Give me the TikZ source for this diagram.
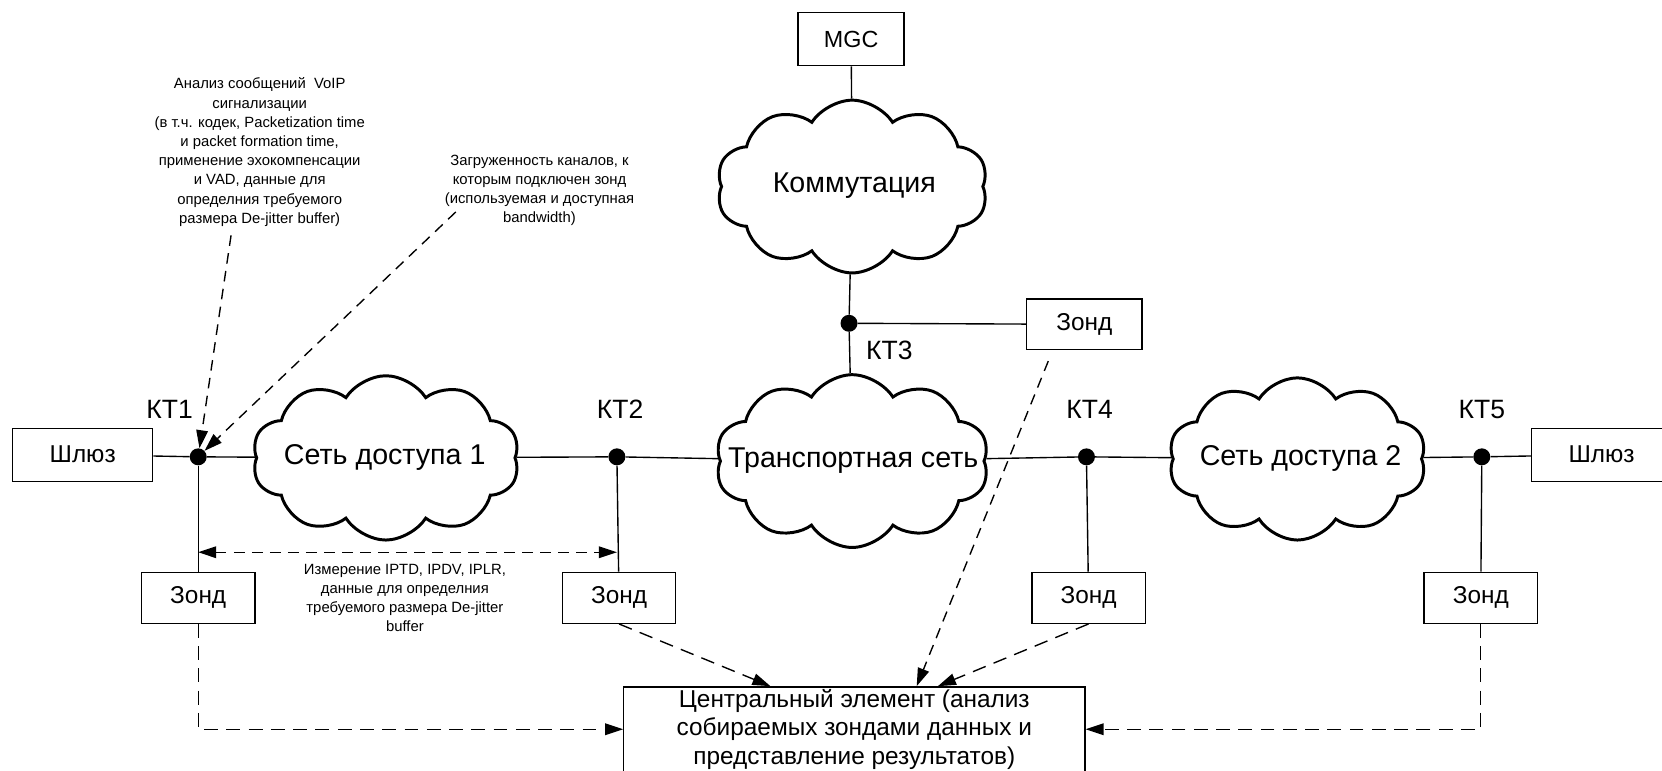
\documentclass[tikz,border=0pt]{standalone}
\usepackage{fontspec}
\setmainfont{Liberation Sans}
\usetikzlibrary{shapes.symbols,arrows.meta}
\begin{document}
\begin{tikzpicture}[x=1pt,y=-1pt,
  conn/.style={line width=1.3pt},
  box/.style={draw, line width=1.3pt, inner sep=0pt, font=\fontsize{23}{27}\selectfont},
  probe/.style={box, minimum width=107pt, minimum height=48pt},
  cloudn/.style={cloud, cloud puffs=10, cloud puff arc=115, cloud ignores aspect, draw, line width=2.8pt, inner sep=0pt},
  bigtext/.style={font=\fontsize{27}{31}\selectfont, inner sep=0pt},
  ktlabel/.style={font=\fontsize{25}{29}\selectfont, inner sep=0pt},
  smalltext/.style={font=\fontsize{14}{18.1}\selectfont, align=center, inner sep=0pt},
  dot/.style={circle, fill=black, inner sep=0pt, minimum size=16pt},
  tip/.style={Triangle[length=17pt,width=11pt]},
  dasharrow/.style={line width=1.3pt, dash pattern=on 13pt off 8pt, -{Triangle[length=17pt,width=11pt]}},
  dasharrowfine/.style={line width=1.3pt, dash pattern=on 10pt off 7pt, -{Triangle[length=17pt,width=11pt]}},
  dblarrow/.style={line width=1.3pt, dash pattern=on 10pt off 7pt, {Triangle[length=17pt,width=11pt]}-{Triangle[length=17pt,width=11pt]}}
]
\useasboundingbox (0,0) rectangle (1568,727);

% clouds
\node[cloudn, minimum width=256pt, minimum height=163pt] (kom) at (804,176) {};
\node[bigtext] (komt) at (806,175) {Коммутация};
\node[cloudn, minimum width=258pt, minimum height=163pt] (tc) at (804,435) {};
\node[cloudn, minimum width=252pt, minimum height=155pt] (c1) at (364,432) {};
\node[bigtext] (c1t) at (363,432) {Сеть доступа 1};
\node[cloudn, minimum width=243pt, minimum height=153pt] (c2) at (1224,433) {};
\node[bigtext] (c2t) at (1227,433) {Сеть доступа 2};

% boxes
\node[box, minimum width=100pt, minimum height=50pt, font=\fontsize{22}{26}\selectfont] (mgc) at (803,37) {MGC};
\node[box, minimum width=132pt, minimum height=50pt] (gwL) at (78,429) {Шлюз};
\node[box, minimum width=132pt, minimum height=50pt] (gwR) at (1511,429) {Шлюз};
\node[probe, minimum width=109pt, minimum height=48pt] (z3) at (1023,306) {Зонд};
\node[probe] (z1) at (187,564) {Зонд};
\node[probe] (z2) at (584,564) {Зонд};
\node[probe] (z4) at (1027,564) {Зонд};
\node[probe] (z5) at (1397,564) {Зонд};
\node[box, minimum width=435pt, minimum height=80pt, align=center, font=\fontsize{23}{26.8}\selectfont] (ce) at (806,688)
  {Центральный элемент (анализ\\собираемых зондами данных и\\представление результатов)};

% points
\node[dot] (kt1) at (187,431) {};
\node[dot] (kt2) at (582,431) {};
\node[dot] (kt3) at (801,305) {};
\node[dot] (kt4) at (1025,431) {};
\node[dot] (kt5) at (1398,431) {};
\node[ktlabel] (l1) at (160,386) {КТ1};
\node[ktlabel] (l2) at (585,386) {КТ2};
\node[ktlabel] (l3) at (839,331) {КТ3};
\node[ktlabel] (l4) at (1028,386) {КТ4};
\node[ktlabel] (l5) at (1398,386) {КТ5};

% transport text on top
\node[bigtext] (tct) at (805,435) {Транспортная сеть};

% texts
\node[smalltext] (t1) at (245,143.5) {Анализ сообщений\ \ VoIP\\сигнализации\\(в т.ч. кодек, Packetization time\\и packet formation time,\\применение эхокомпенсации\\и VAD, данные для\\определния требуемого\\размера De-jitter buffer)};
\node[smalltext] (t2) at (509,179.5) {Загруженность каналов, к\\которым подключен зонд\\(используемая и доступная\\bandwidth)};
\node[smalltext] (t3) at (382,564) {Измерение IPTD, IPDV, IPLR,\\данные для определния\\требуемого размера De-jitter\\buffer};

% solid connectors
\draw[conn] (mgc) -- (kom);
\draw[conn] (kom) -- (kt3);
\draw[conn] (kt3) -- (tc);
\draw[conn] (kt3) -- (z3);
\draw[conn] (gwL) -- (kt1);
\draw[conn] (kt1) -- (c1);
\draw[conn] (c1) -- (kt2);
\draw[conn] (kt2) -- (tc);
\draw[conn] (tc) -- (kt4);
\draw[conn] (kt4) -- (c2);
\draw[conn] (c2) -- (kt5);
\draw[conn] (kt5) -- (gwR);
\draw[conn] (kt1) -- (z1);
\draw[conn] (kt2) -- (z2);
\draw[conn] (kt4) -- (z4);
\draw[conn] (kt5) -- (z5);

% dashed arrows
\coordinate (a1) at (218,222);
\coordinate (a2) at (430,200);
\draw[dasharrowfine] (a1) -- (kt1);
\draw[dasharrowfine] (a2) -- (kt1);
\coordinate (m1) at (187,521);
\coordinate (m2) at (582,521);
\draw[dblarrow] (m1) -- (m2);
\draw[dasharrow] (z1.south) |- (ce.west);
\draw[dasharrow] (z5.south) |- (ce.east);
\draw[dasharrow] (z2.south) -- ([xshift=139pt]ce.north west);
\draw[dasharrow] (z4.south) -- ([xshift=297pt]ce.north west);
\draw[dasharrowfine] ([xshift=-34pt,yshift=-10pt]z3.south) -- ([xshift=277pt]ce.north west);
\end{tikzpicture}
\end{document}
